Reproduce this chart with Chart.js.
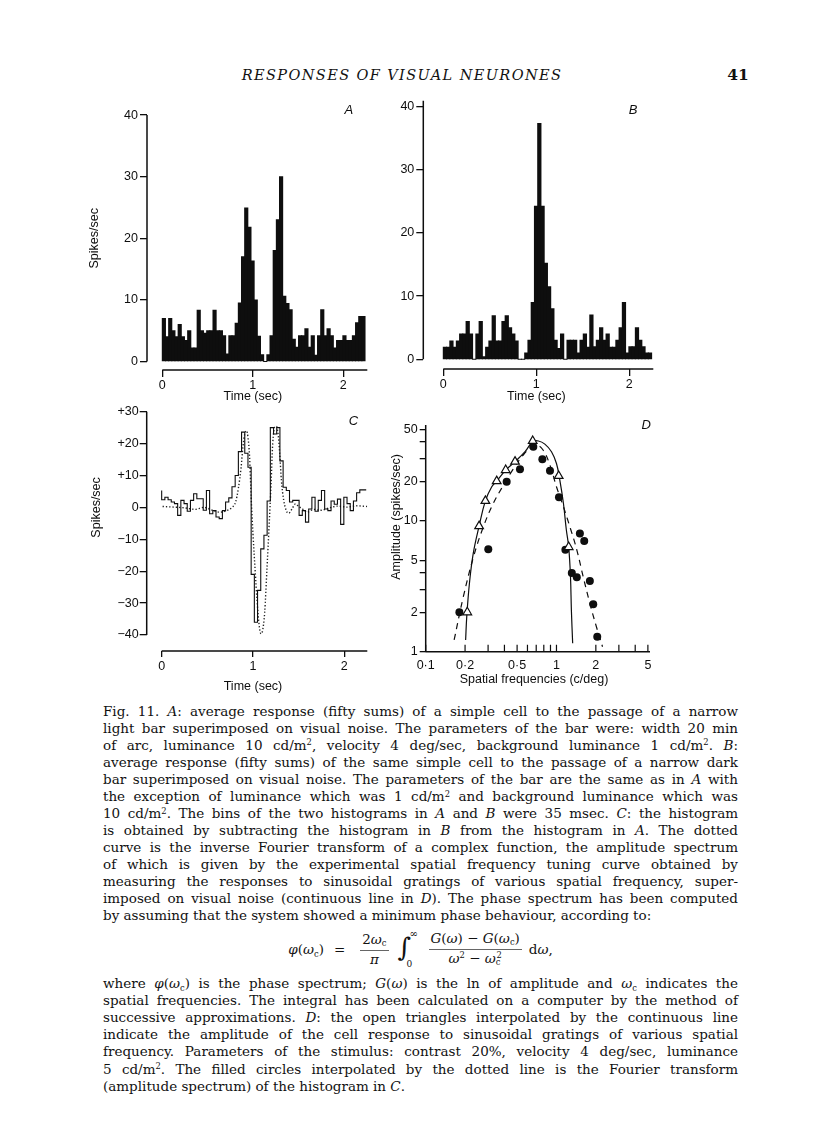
<!DOCTYPE html>
<html>
<head>
<meta charset="utf-8">
<title>Fig. 11 — Responses of visual neurones</title>
<script src="https://cdn.jsdelivr.net/npm/chart.js@4.4.1/dist/chart.umd.min.js"></script>
<style>
  html, body { margin:0; padding:0; background:#fff; }
  body { position:relative; width:816px; height:1127px; overflow:hidden; color:#111;
         font-family:"DejaVu Serif","Liberation Serif",serif; }
  canvas { position:absolute; }
  #hdr { position:absolute; left:-6px; width:816px; top:65px; text-align:center; font-style:italic;
         font-size:14.5px; letter-spacing:1.4px; line-height:20px; }
  #pg { position:absolute; left:722px; width:32px; top:65px; text-align:center; font-weight:bold;
        font-size:15.5px; line-height:20px; }
  .cap { position:absolute; left:103px; width:635px; font-size:13.5px; }
  .ln { height:17.05px; line-height:17.05px; white-space:nowrap; }
  .ln sup { font-size:0.62em; vertical-align:0; position:relative; top:-0.5em; line-height:0; }
  .ln sub { font-size:0.62em; vertical-align:0; position:relative; top:0.3em; line-height:0; }
  #formula { position:absolute; left:103px; width:635px; top:927px; height:44px; display:flex;
             justify-content:center; align-items:center; font-size:13.5px; }
  .frac { display:inline-flex; flex-direction:column; align-items:center; margin:0 3px; }
  .frac > span { line-height:17px; padding:0 2px; }
  .frac > span:first-child { border-bottom:0.8px solid #666; }
  #formula sub { font-size:0.62em; vertical-align:0; position:relative; top:0.3em; }
  #formula sup { font-size:0.62em; vertical-align:0; position:relative; top:-0.5em; }
  .intg { position:relative; display:inline-block; width:24px; height:40px; margin:0 4px 0 6px; }
  .intg .s { position:absolute; left:0; top:3px; font-size:26px; line-height:30px; font-style:italic; }
  .intg .hi { position:absolute; left:12px; top:0px; font-size:10px; line-height:10px; }
  .intg .lo { position:absolute; left:9px; top:30px; font-size:9px; line-height:10px; }
</style>
</head>
<body>
<div id="hdr">RESPONSES OF VISUAL NEURONES</div>
<div id="pg">41</div>

<div class="cap" id="cap1" style="top:702.5px">
  <div class="ln j"><span>Fig. 11. <i>A</i>: average response (fifty sums) of a simple cell to the passage of a narrow</span></div>
  <div class="ln j"><span>light bar superimposed on visual noise. The parameters of the bar were: width 20 min</span></div>
  <div class="ln j"><span>of arc, luminance 10 cd/m<sup>2</sup>, velocity 4 deg/sec, background luminance 1 cd/m<sup>2</sup>. <i>B</i>:</span></div>
  <div class="ln j"><span>average response (fifty sums) of the same simple cell to the passage of a narrow dark</span></div>
  <div class="ln j"><span>bar superimposed on visual noise. The parameters of the bar are the same as in <i>A</i> with</span></div>
  <div class="ln j"><span>the exception of luminance which was 1 cd/m<sup>2</sup> and background luminance which was</span></div>
  <div class="ln j"><span>10 cd/m<sup>2</sup>. The bins of the two histograms in <i>A</i> and <i>B</i> were 35 msec. <i>C</i>: the histogram</span></div>
  <div class="ln j"><span>is obtained by subtracting the histogram in <i>B</i> from the histogram in <i>A</i>. The dotted</span></div>
  <div class="ln j"><span>curve is the inverse Fourier transform of a complex function, the amplitude spectrum</span></div>
  <div class="ln j"><span>of which is given by the experimental spatial frequency tuning curve obtained by</span></div>
  <div class="ln j"><span>measuring the responses to sinusoidal gratings of various spatial frequency, super-</span></div>
  <div class="ln j"><span>imposed on visual noise (continuous line in <i>D</i>). The phase spectrum has been computed</span></div>
  <div class="ln"><span>by assuming that the system showed a minimum phase behaviour, according to:</span></div>
</div>

<div id="formula">
  <span><i>φ</i>(<i>ω</i><sub>c</sub>)</span><span style="margin:0 12px 0 10px">=</span>
  <span class="frac"><span>2<i>ω</i><sub>c</sub></span><span><i>π</i></span></span>
  <span class="intg"><span class="s">∫</span><span class="hi">∞</span><span class="lo">0</span></span>
  <span class="frac"><span><i>G</i>(<i>ω</i>) − <i>G</i>(<i>ω</i><sub>c</sub>)</span><span><i>ω</i><sup>2</sup> − <i>ω</i><sub>c</sub><sup style="margin-left:-4px">2</sup></span></span>
  <span style="margin-left:4px">d<i>ω</i>,</span>
</div>

<div class="cap" id="cap2" style="top:975.3px">
  <div class="ln j"><span>where <i>φ</i>(<i>ω</i><sub>c</sub>) is the phase spectrum; <i>G</i>(<i>ω</i>) is the ln of amplitude and <i>ω</i><sub>c</sub> indicates the</span></div>
  <div class="ln j"><span>spatial frequencies. The integral has been calculated on a computer by the method of</span></div>
  <div class="ln j"><span>successive approximations. <i>D</i>: the open triangles interpolated by the continuous line</span></div>
  <div class="ln j"><span>indicate the amplitude of the cell response to sinusoidal gratings of various spatial</span></div>
  <div class="ln j"><span>frequency. Parameters of the stimulus: contrast 20%, velocity 4 deg/sec, luminance</span></div>
  <div class="ln j"><span>5 cd/m<sup>2</sup>. The filled circles interpolated by the dotted line is the Fourier transform</span></div>
  <div class="ln"><span>(amplitude spectrum) of the histogram in <i>C</i>.</span></div>
</div>

<script>
// ---------------- DATA ----------------
const BIN_SEC = 0.035;             // histogram bin width (s)
// A: light bar, spikes/sec per 35-ms bin
const histA = [7,4,7,5,4,6,4,3.4,5,2.2, 2.2,8.3,5,4.6,5,5,8.3,5,5,4.2,
               1.2,4.2,4.2,6.2,9.5,17,24.9,21.8,16.3,10, 4.1,1.1,0,1.1,4.2,18,23,30,10.6,9.4,
               8.4,3.6,2.3,4.2,4.2,5.3,2.3,4.2,1,4.2, 8.4,4.2,5.3,4.2,2.2,3.4,3.4,4.2,3.4,3.4,
               4.2,6.3,7.3,7.3];
// B: dark bar
const histB = [1.9,1.9,2.9,1.9,2.9,4,4,6,4,0, 4,6,0.4,1.9,2.9,6.9,2.9,2.9,6,6.9,
               5,4,2.9,0,0,1,3,9,24.2,37.3, 24.2,15.2,11.5,8,3,1.7,4,0,3,3,
               3,1,3,4,1.9,7,2,3,5,3, 4,1.9,1.9,3,5,9,1,2,2,5,
               3,2,1,1];
// C: difference histogram (solid step line)
const histC = [5.3,2.4,3.2,2.4,1.7,1.2,-2.5,2.2,1.2,-1.2, 2.2,4.3,2.7,2.7,-0.9,5.3,-2,-1,-3,-3.5,
               -1,1.7,3,6.5,10,17.5,23.6,17,12.6,-21, -36,-26,-13,-8.7,2,25,23,25,14.6,6.3,
               5.3,1.7,2.2,2.2,-2.5,-1,-4.6,-0.5,3.2,-1.2, 2.2,5.3,-0.5,-1,2,1,2.6,-5.3,3.2,1.2,
               -1,2,4.6,5.5];
// C: dotted curve (inverse Fourier transform)
const dotTime = [0.01,0.13,0.24,0.37,0.46,0.57,0.64,0.71,0.77,0.81,0.84,0.87,0.89,0.91,0.93,0.945,0.963,0.98,
                 1.0,1.026,1.044,1.07,1.088,1.106,1.128,1.154,1.176,1.198,1.216,1.238,1.256,1.275,1.293,1.311,
                 1.337,1.366,1.392,1.429,1.465,1.50,1.538,1.593,1.667,1.74,1.83,1.923,2.03,2.14,2.25];
const dotVal  = [0.3,0.1,-0.1,-0.6,0,-1,-1.5,-1,0,1.7,6,12.6,19,23,24,22,15.8,3.2,
                 -8.3,-20.8,-29,-37.5,-39.6,-38.5,-33,-18.7,-6.2,7.4,20,25.2,25.4,23,16.8,8.5,
                 2.2,-1.1,-1.8,-0.4,1.1,0.3,-0.4,-1.5,-0.6,-0.9,-0.2,0.4,0.1,0.5,0.3];
// D: spatial frequency tuning
const triFreq  = [0.208,0.256,0.286,0.349,0.409,0.482,0.658,1.04,1.24];
const triAmp   = [2.0,9.1,14.2,20.1,24.4,28.3,40.7,22,6.3];
const circFreq = [0.181,0.301,0.416,0.526,0.665,0.780,0.892,1.045,1.17,1.31,1.43,1.51,1.63,1.80,1.91,2.05];
const circAmp  = [2.0,6.05,19.9,24.7,36.8,29.5,24.1,15.1,6.0,4.0,3.7,8.0,7.0,3.47,2.3,1.3];
const solidFreq = [0.202,0.206,0.216,0.231,0.256,0.286,0.32,0.349,0.409,0.482,0.575,0.658,0.728,0.815,0.916,1.0,1.06,1.13,1.19,1.24,1.28,1.30,1.33];
const solidAmp  = [1.23,1.85,3.33,5.64,9.1,14.2,18.2,20.1,24.4,28.3,33.7,40.2,40.7,38.5,33.7,27.4,20.5,13.6,8.5,6.3,3.74,2.08,1.16];
const dashFreq = [0.165,0.194,0.232,0.276,0.329,0.393,0.467,0.557,0.645,0.705,0.79,0.892,1.0,1.13,1.28,1.43,1.6,1.80,2.02,2.25];
const dashAmp  = [1.23,2.63,5.3,9.0,13.6,18.7,24.8,31.8,36.8,38.0,34.7,26.6,18.2,12.8,8.7,6.0,3.74,2.34,1.55,1.09];
// tick labels
const histYTicks = [0,10,20,30,40];
const timeTicks = [0,1,2];
const cYTicks = [30,20,10,0,-10,-20,-30,-40];
const cYLabels = ['+30','+20','+10','0','\u221210','\u221220','\u221230','\u221240'];
const dXTicks = [0.1,0.2,0.5,1,2,5];
const dXLabels = ['0\u00b71','0\u00b72','0\u00b75','1','2','5'];
const dXMinor = [0.1,0.2,0.3,0.4,0.5,0.6,0.7,0.8,0.9,1,2,3,4,5];
const dYTicks = [1,2,3,4,5,10,20,30,40,50];
const dYLabels = ['1','2','','','5','10','20','','','50'];

// ---------------- CHARTS ----------------
const INK = '#0e0e0e';
const FONT = '"Liberation Sans", Arial, sans-serif';
Chart.defaults.font.family = FONT;
Chart.defaults.font.size = 12.5;
Chart.defaults.color = INK;

const axisPlus = {
  id: 'axisPlus',
  afterDraw(chart, _args, o) {
    const {ctx, chartArea: a, scales} = chart;
    const X = scales.x, Y = scales.y;
    ctx.save();
    ctx.strokeStyle = INK; ctx.fillStyle = INK; ctx.lineWidth = 1.5;
    ctx.beginPath();
    if (o.yLine) { ctx.moveTo(a.left, Y.getPixelForValue(o.yLine[0])); ctx.lineTo(a.left, Y.getPixelForValue(o.yLine[1])); }
    if (o.xLine) { ctx.moveTo(X.getPixelForValue(o.xLine[0]), a.bottom); ctx.lineTo(X.getPixelForValue(o.xLine[1]), a.bottom); }
    ctx.stroke();
    if (o.xInTicks) {
      ctx.lineWidth = 1.2; ctx.beginPath();
      o.xInTicks.forEach(v => { const x = X.getPixelForValue(v); ctx.moveTo(x, a.bottom); ctx.lineTo(x, a.bottom - o.inLen); });
      ctx.stroke();
    }
    ctx.textAlign = 'center'; ctx.textBaseline = 'middle';
    ctx.font = '12.5px ' + FONT;
    if (o.yTitle) {
      ctx.save(); ctx.translate(a.left - o.yTitle.dx, Y.getPixelForValue(o.yTitle.at));
      ctx.rotate(-Math.PI / 2); ctx.fillText(o.yTitle.text, 0, 0); ctx.restore();
    }
    if (o.xTitle) ctx.fillText(o.xTitle.text, X.getPixelForValue(o.xTitle.at), a.bottom + o.xTitle.dy);
    if (o.letter) {
      ctx.font = 'italic 13px ' + FONT;
      ctx.fillText(o.letter.text, X.getPixelForValue(o.letter.x), Y.getPixelForValue(o.letter.y));
    }
    ctx.restore();
  }
};

function panel(id, box, area, wy, hx, cfg) {
  const c = document.createElement('canvas');
  c.id = id; c.width = box[2]; c.height = box[3];
  Object.assign(c.style, {left: box[0] + 'px', top: box[1] + 'px', width: box[2] + 'px', height: box[3] + 'px'});
  document.body.appendChild(c);
  const o = cfg.options;
  o.layout = {padding: {left: area.l - box[0] - wy, top: area.t - box[1],
                        right: box[0] + box[2] - area.r, bottom: box[1] + box[3] - area.b - hx}};
  o.scales.x.afterFit = s => { s.height = hx; };
  o.scales.y.afterFit = s => { s.width = wy; };
  o.responsive = false; o.animation = false; o.events = [];
  o.plugins = Object.assign({legend: {display: false}, tooltip: {enabled: false}}, o.plugins || {});
  cfg.plugins = [axisPlus];
  return new Chart(c, cfg);
}

function axis(type, min, max, vals, labels, tickLen, pad, drawTicks) {
  return {
    type, min, max, bounds: 'data', offset: false,
    afterBuildTicks: s => { s.ticks = vals.map(v => ({value: v})); },
    ticks: { autoSkip: false, maxRotation: 0, padding: pad, color: INK, font: {size: 12.5},
             callback: (v) => { const i = vals.indexOf(v); return labels ? (i >= 0 ? labels[i] : '') : String(v); } },
    grid: { display: drawTicks !== false, drawOnChartArea: false, drawTicks: drawTicks !== false,
            tickLength: tickLen, color: INK, lineWidth: 1.3, offset: false },
    border: { display: false }
  };
}

function histData(arr) { return arr.map((v, i) => ({x: (i + 0.5) * BIN_SEC, y: v})); }

// Panel A  (y axis at x=147, 0 s at x=162.3, 90.5 px/s; 0 spikes at y=361.5, 6.16 px/unit)
panel('chartA', [30, 85, 360, 340], {l: 147, t: 113.25, r: 367.3, b: 370}, 40, 30, {
  type: 'bar',
  data: { datasets: [{ data: histData(histA), backgroundColor: INK, borderWidth: 0,
                       barPercentage: 1, categoryPercentage: 1, inflateAmount: 0.5 }] },
  options: {
    scales: { x: axis('linear', -0.169, 2.265, timeTicks, null, 7, 1),
              y: axis('linear', -1.38, 40.3, histYTicks, null, 7, 2) },
    plugins: { axisPlus: { yLine: [0, 40], xLine: [0, 2.265],
      yTitle: {text: 'Spikes/sec', at: 20, dx: 52}, xTitle: {text: 'Time (sec)', at: 1, dy: 27},
      letter: {text: 'A', x: 2.06, y: 40.8} } }
  }
});

// Panel B  (y axis at x=423.3, 0 s at x=443.3, 93 px/s)
panel('chartB', [370, 85, 310, 340], {l: 423.3, t: 100.8, r: 653.3, b: 369}, 40, 30, {
  type: 'bar',
  data: { datasets: [{ data: histData(histB), backgroundColor: INK, borderWidth: 0,
                       barPercentage: 1, categoryPercentage: 1, inflateAmount: 0.5 }] },
  options: {
    scales: { x: axis('linear', -0.215, 2.258, timeTicks, null, 7, 1),
              y: axis('linear', -1.53, 40.9, histYTicks, null, 7, 2) },
    plugins: { axisPlus: { yLine: [0, 40.9], xLine: [0, 2.258],
      xTitle: {text: 'Time (sec)', at: 1, dy: 28},
      letter: {text: 'B', x: 2.04, y: 39.4} } }
  }
});

// Panel C
const stepPts = histC.map((v, i) => ({x: i * BIN_SEC, y: v}));
stepPts.push({x: histC.length * BIN_SEC, y: histC[histC.length - 1]});
panel('chartC', [30, 392, 360, 310], {l: 146.7, t: 411.7, r: 367.3, b: 651}, 40, 35, {
  type: 'scatter',
  data: { datasets: [
    { data: stepPts, showLine: true, stepped: 'after', borderColor: INK, borderWidth: 1.1, pointRadius: 0 },
    { data: dotTime.map((t, i) => ({x: t, y: dotVal[i]})), showLine: true, cubicInterpolationMode: 'monotone',
      borderColor: '#222', borderWidth: 1.4, borderDash: [1.3, 2], pointRadius: 0 }
  ] },
  options: {
    scales: { x: axis('linear', -0.164, 2.252, timeTicks, null, 6, 2.5),
              y: axis('linear', -45, 30, cYTicks, cYLabels, 7, 1) },
    plugins: { axisPlus: { yLine: [-40, 30], xLine: [0, 2.252],
      yTitle: {text: 'Spikes/sec', at: 0, dx: 50}, xTitle: {text: 'Time (sec)', at: 1, dy: 35.7},
      letter: {text: 'C', x: 2.10, y: 26.9} } }
  }
});

// Panel D
panel('chartD', [380, 400, 290, 300], {l: 425.7, t: 425, r: 650, b: 651.7}, 40, 35, {
  type: 'scatter',
  data: { datasets: [
    { data: triFreq.map((f, i) => ({x: f, y: triAmp[i]})), pointStyle: 'triangle', pointRadius: 5,
      backgroundColor: '#fff', borderColor: INK, borderWidth: 1.2 },
    { data: circFreq.map((f, i) => ({x: f, y: circAmp[i]})), pointStyle: 'circle', pointRadius: 4,
      backgroundColor: INK, borderColor: INK, borderWidth: 0 },
    { data: solidFreq.map((f, i) => ({x: f, y: solidAmp[i]})), showLine: true, tension: 0.4,
      borderColor: INK, borderWidth: 1.2, pointRadius: 0 },
    { data: dashFreq.map((f, i) => ({x: f, y: dashAmp[i]})), showLine: true, tension: 0.4,
      borderColor: INK, borderWidth: 1.2, borderDash: [6, 5], pointRadius: 0 }
  ] },
  options: {
    scales: { x: axis('logarithmic', 0.1, 5.19, dXTicks, dXLabels, 0, 6, false),
              y: axis('logarithmic', 1, 53.9, dYTicks, dYLabels, 6, 2) },
    plugins: { axisPlus: { yLine: [1, 53.9], xLine: [0.1, 5.19], xInTicks: dXMinor, inLen: 7,
      yTitle: {text: 'Amplitude (spikes/sec)', at: 10.7, dx: 29},
      xTitle: {text: 'Spatial frequencies (c/deg)', at: 0.673, dy: 28.3},
      letter: {text: 'D', x: 4.85, y: 54} } }
  }
});

// ---------------- caption justification ----------------
function justify() {
  document.querySelectorAll('.ln.j').forEach(d => {
    const s = d.firstElementChild;
    s.style.wordSpacing = '0px';
    const w = s.getBoundingClientRect().width;
    const n = (s.textContent.match(/ /g) || []).length;
    if (n) s.style.wordSpacing = ((635 - w) / n) + 'px';
  });
}
justify();
if (document.fonts && document.fonts.ready) document.fonts.ready.then(justify);
</script>
</body>
</html>
